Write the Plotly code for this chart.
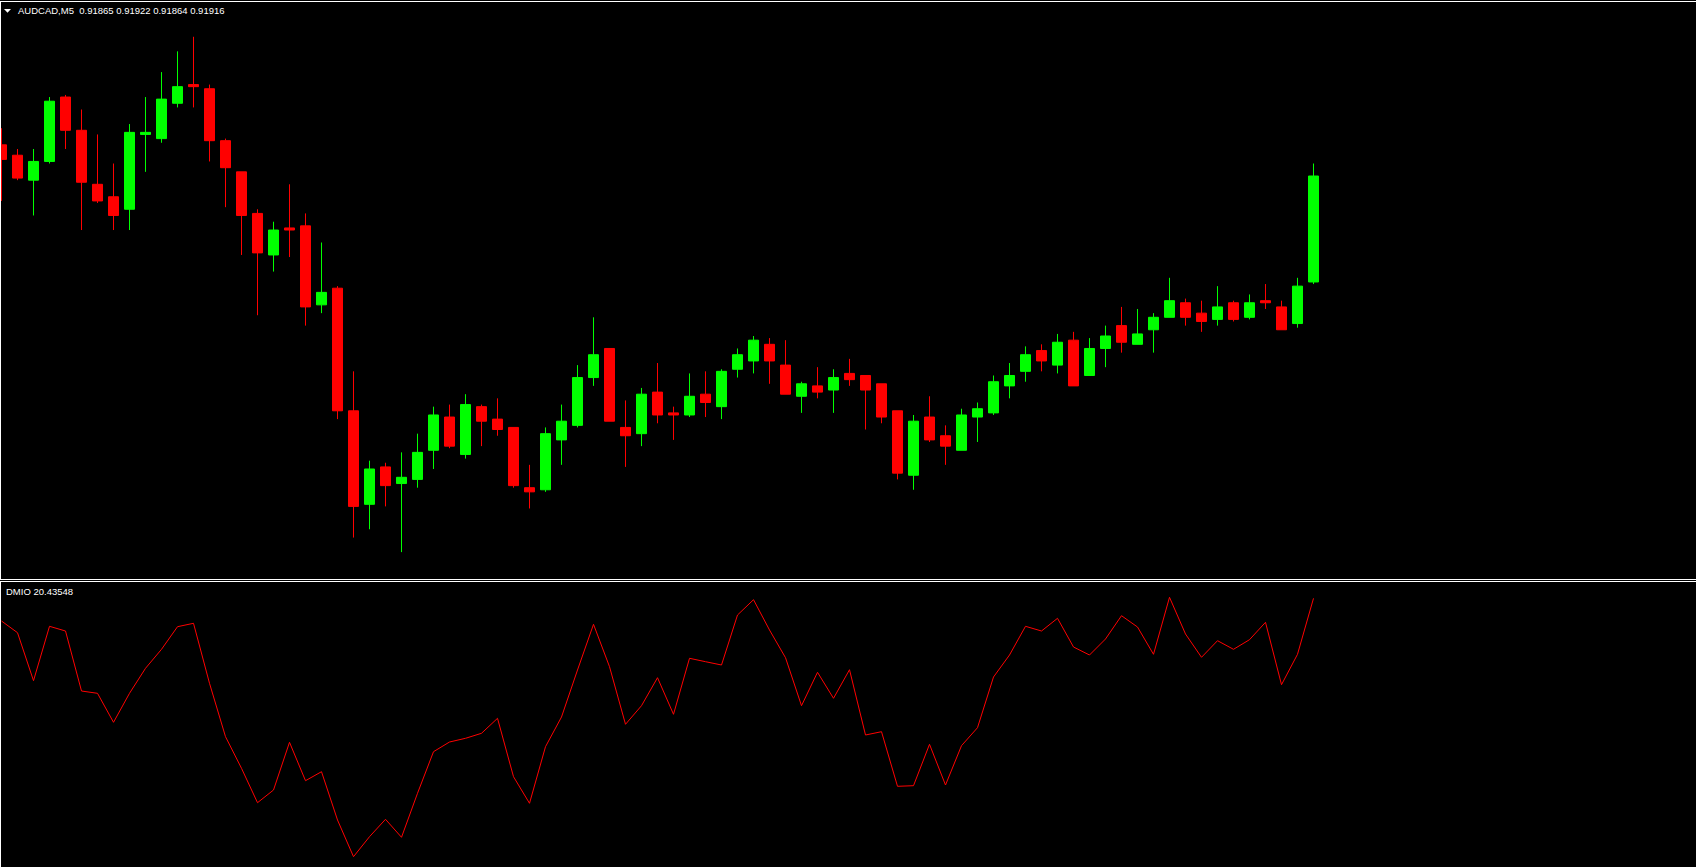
import plotly.graph_objects as go

W, H = 1696, 867

# ---------------- data ----------------
symbol = "AUDCAD,M5"
header_values = ["0.91865", "0.91922", "0.91864", "0.91916"]
indicator_name = "DMIO"
indicator_value = "20.43548"

bars = list(range(83))

open_ = [0.91931, 0.91926, 0.91914, 0.91923, 0.91954, 0.91938, 0.91912, 0.91906, 0.91900, 0.91936,
         0.91934, 0.91951, 0.91960, 0.91958, 0.91933, 0.91918, 0.91898, 0.91878, 0.91891, 0.91892,
         0.91854, 0.91862, 0.91803, 0.91758, 0.91776, 0.91768, 0.91770, 0.91784, 0.91800, 0.91782,
         0.91805, 0.91799, 0.91795, 0.91766, 0.91765, 0.91789, 0.91796, 0.91819, 0.91833, 0.91795,
         0.91792, 0.91812, 0.91802, 0.91801, 0.91811, 0.91805, 0.91823, 0.91827, 0.91835, 0.91825,
         0.91810, 0.91815, 0.91813, 0.91821, 0.91820, 0.91816, 0.91803, 0.91772, 0.91800, 0.91791,
         0.91784, 0.91800, 0.91802, 0.91815, 0.91822, 0.91832, 0.91825, 0.91837, 0.91820, 0.91833,
         0.91844, 0.91835, 0.91842, 0.91848, 0.91855, 0.91850, 0.91847, 0.91855, 0.91848, 0.91856,
         0.91853, 0.91845, 0.91865]
high = [0.91939, 0.91929, 0.91929, 0.91954, 0.91955, 0.91948, 0.91936, 0.91922, 0.91941, 0.91954,
        0.91966, 0.91976, 0.91983, 0.91960, 0.91934, 0.91918, 0.91900, 0.91894, 0.91912, 0.91898,
        0.91884, 0.91863, 0.91822, 0.91779, 0.91778, 0.91783, 0.91792, 0.91805, 0.91806, 0.91811,
        0.91806, 0.91809, 0.91795, 0.91777, 0.91795, 0.91806, 0.91825, 0.91848, 0.91833, 0.91808,
        0.91814, 0.91826, 0.91805, 0.91821, 0.91822, 0.91823, 0.91833, 0.91839, 0.91838, 0.91837,
        0.91817, 0.91824, 0.91823, 0.91828, 0.91820, 0.91816, 0.91803, 0.91801, 0.91810, 0.91796,
        0.91804, 0.91807, 0.91820, 0.91826, 0.91834, 0.91835, 0.91840, 0.91841, 0.91838, 0.91844,
        0.91853, 0.91852, 0.91850, 0.91867, 0.91857, 0.91856, 0.91863, 0.91856, 0.91859, 0.91864,
        0.91856, 0.91867, 0.91922]
low = [0.91904, 0.91914, 0.91897, 0.91922, 0.91929, 0.91890, 0.91903, 0.91890, 0.91890, 0.91918,
       0.91932, 0.91949, 0.91949, 0.91923, 0.91901, 0.91878, 0.91849, 0.91870, 0.91877, 0.91844,
       0.91850, 0.91799, 0.91742, 0.91746, 0.91757, 0.91735, 0.91766, 0.91775, 0.91785, 0.91780,
       0.91786, 0.91791, 0.91766, 0.91756, 0.91764, 0.91777, 0.91795, 0.91815, 0.91798, 0.91776,
       0.91786, 0.91797, 0.91789, 0.91800, 0.91800, 0.91799, 0.91819, 0.91821, 0.91816, 0.91811,
       0.91802, 0.91809, 0.91802, 0.91815, 0.91794, 0.91797, 0.91770, 0.91765, 0.91788, 0.91777,
       0.91784, 0.91788, 0.91801, 0.91809, 0.91817, 0.91822, 0.91821, 0.91815, 0.91820, 0.91824,
       0.91831, 0.91835, 0.91831, 0.91848, 0.91844, 0.91841, 0.91844, 0.91846, 0.91847, 0.91852,
       0.91842, 0.91843, 0.91864]
close = [0.91924, 0.91915, 0.91923, 0.91952, 0.91938, 0.91913, 0.91904, 0.91897, 0.91937, 0.91937,
         0.91953, 0.91959, 0.91959, 0.91933, 0.91920, 0.91897, 0.91879, 0.91890, 0.91890, 0.91853,
         0.91860, 0.91803, 0.91757, 0.91775, 0.91767, 0.91771, 0.91783, 0.91801, 0.91786, 0.91806,
         0.91798, 0.91794, 0.91767, 0.91764, 0.91792, 0.91798, 0.91819, 0.91830, 0.91798, 0.91791,
         0.91811, 0.91801, 0.91801, 0.91810, 0.91807, 0.91822, 0.91830, 0.91837, 0.91827, 0.91811,
         0.91816, 0.91812, 0.91819, 0.91818, 0.91813, 0.91800, 0.91773, 0.91798, 0.91789, 0.91786,
         0.91801, 0.91804, 0.91817, 0.91820, 0.91830, 0.91827, 0.91836, 0.91815, 0.91833, 0.91839,
         0.91836, 0.91840, 0.91848, 0.91856, 0.91848, 0.91846, 0.91853, 0.91847, 0.91855, 0.91855,
         0.91842, 0.91863, 0.91916]

dmio = [15.90, 13.56, 3.96, 14.84, 13.90, 1.90, 1.44, -4.36, 1.44, 6.44,
        10.24, 14.76, 15.44, 3.44, -7.24, -13.56, -20.44, -17.90, -8.36, -16.04,
        -14.24, -23.90, -31.24, -27.24, -23.76, -27.36, -18.56, -10.24, -8.30, -7.56,
        -6.56, -3.56, -15.24, -20.56, -9.24, -3.30, 6.10, 15.24, 6.76, -4.76,
        -1.04, 4.56, -2.76, 8.44, 7.76, 7.10, 17.10, 20.16, 14.10, 8.56,
        -1.04, 5.64, 0.44, 6.16, -6.90, -6.24, -17.16, -17.04, -8.76, -16.90,
        -9.04, -5.44, 4.70, 9.10, 14.84, 13.90, 16.44, 10.70, 9.10, 12.30,
        16.96, 14.70, 9.24, 20.64, 13.30, 8.64, 11.96, 10.24, 12.16, 15.64,
        3.16, 9.24, 20.43548]

# ---------------- helpers (pixel -> paper) ----------------
def px(x):
    return x / W


def py(y):
    return 1 - y / H


BULL = "#00FF00"
BEAR = "#FF0000"
WHITE = "#FFFFFF"
FONT = "Liberation Sans, Arial, sans-serif"

fig = go.Figure()

fig.add_trace(go.Candlestick(
    x=bars, open=open_, high=high, low=low, close=close,
    increasing=dict(line=dict(color=BULL, width=1), fillcolor=BULL),
    decreasing=dict(line=dict(color=BEAR, width=1), fillcolor=BEAR),
    whiskerwidth=0, hoverinfo="skip", xaxis="x", yaxis="y",
))

fig.add_trace(go.Scatter(
    x=bars, y=dmio, mode="lines", line=dict(color=BEAR, width=1),
    hoverinfo="skip", xaxis="x2", yaxis="y2",
))

xr = [-0.09375, 105.90625]
ax = dict(showgrid=False, zeroline=False, showticklabels=False, showline=False,
          ticks="", fixedrange=True)

fig.update_layout(
    width=W, height=H,
    margin=dict(l=0, r=0, t=0, b=0, pad=0),
    paper_bgcolor="#000000", plot_bgcolor="#000000",
    showlegend=False,
    boxgap=0.375,
    boxgroupgap=0,
    xaxis=dict(domain=[0, 1], range=xr, rangeslider=dict(visible=False), anchor="y", **ax),
    yaxis=dict(domain=[1 - 579 / H, 1], range=[0.9172206, 0.9200070], anchor="x", **ax),
    xaxis2=dict(domain=[0, 1], range=xr, anchor="y2", **ax),
    yaxis2=dict(domain=[0, 1 - 581 / H], range=[-33.3, 23.9], anchor="x2", **ax),
)

line_style = dict(color=WHITE, width=1)
shapes = [
    # top border
    dict(type="line", xref="paper", yref="paper", x0=0, x1=1, y0=py(1.5), y1=py(1.5), line=line_style),
    # main panel left border
    dict(type="line", xref="paper", yref="paper", x0=px(0.5), x1=px(0.5), y0=py(1.5), y1=py(579.5), line=line_style),
    # separator lines
    dict(type="line", xref="paper", yref="paper", x0=0, x1=1, y0=py(579.5), y1=py(579.5), line=line_style),
    dict(type="line", xref="paper", yref="paper", x0=0, x1=1, y0=py(581.5), y1=py(581.5), line=line_style),
    # sub panel left border
    dict(type="line", xref="paper", yref="paper", x0=px(0.5), x1=px(0.5), y0=py(581.5), y1=0, line=line_style),
    # small menu triangle
    dict(type="path", xref="paper", yref="paper",
         path=f"M {px(4)} {py(9)} L {px(11)} {py(9)} L {px(7.5)} {py(12.8)} Z",
         fillcolor=WHITE, line=dict(width=0)),
]
for s in shapes:
    s["layer"] = "above"
fig.update_layout(shapes=shapes)

header = symbol + "\u00a0\u00a0" + " ".join(header_values)
fig.add_annotation(text=header, xref="paper", yref="paper", x=px(15.5), y=py(10.8),
                   xanchor="left", yanchor="middle", showarrow=False,
                   font=dict(family=FONT, size=9.5, color=WHITE))
fig.add_annotation(text=indicator_name + " " + indicator_value, xref="paper", yref="paper",
                   x=px(3.8), y=py(591.4), xanchor="left", yanchor="middle", showarrow=False,
                   font=dict(family=FONT, size=9.5, color=WHITE))

fig.write_html("out.html", config=dict(displayModeBar=False, staticPlot=True),
               post_script="document.body.style.margin='0';document.body.style.overflow='hidden';")
